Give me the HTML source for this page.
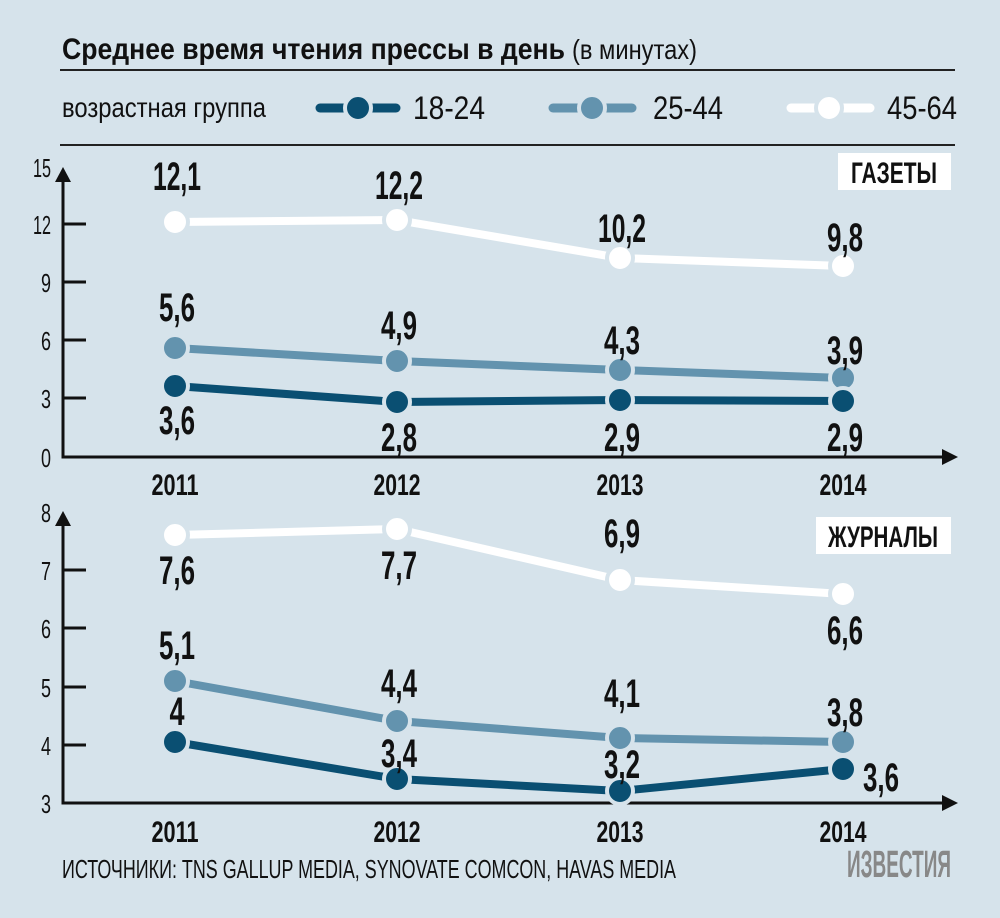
<!DOCTYPE html>
<html><head><meta charset="utf-8"><style>
html,body{margin:0;padding:0;background:#d6e3eb;}
svg{display:block;}
text{font-family:"Liberation Sans Narrow","Liberation Sans",sans-serif;}
.v{font-size:40px;font-weight:bold;fill:#111;text-anchor:middle;}
.t{font-size:26px;fill:#111;text-anchor:end;}
.y{font-size:30px;font-weight:bold;fill:#111;text-anchor:middle;}
</style></head><body>
<svg width="1000" height="918" viewBox="0 0 1000 918" xmlns="http://www.w3.org/2000/svg">
<rect width="1000" height="918" fill="#d6e3eb"/>
<text x="62" y="59" font-size="30" font-weight="bold" fill="#111" textLength="503" lengthAdjust="spacingAndGlyphs">Среднее время чтения прессы в день</text>
<text x="572" y="59" font-size="28" fill="#111" textLength="125" lengthAdjust="spacingAndGlyphs">(в минутах)</text>
<line x1="60" y1="70" x2="955" y2="70" stroke="#222" stroke-width="2"/>
<text x="62" y="117" font-size="28" fill="#111" textLength="204" lengthAdjust="spacingAndGlyphs">возрастная группа</text>
<g stroke-width="9" stroke-linecap="round">
<line x1="320" y1="108" x2="396" y2="108" stroke="#0a4f72"/>
<line x1="553" y1="108" x2="632" y2="108" stroke="#6393ae"/>
<line x1="791" y1="108" x2="870" y2="108" stroke="#fff"/>
</g>
<g stroke="#d6e3eb" stroke-width="4">
<circle cx="358" cy="108" r="13" fill="#0a4f72"/>
<circle cx="592" cy="108" r="13" fill="#6393ae"/>
<circle cx="829" cy="108" r="13" fill="#fff"/>
</g>
<text x="413" y="119" font-size="32" fill="#111" textLength="72" lengthAdjust="spacingAndGlyphs">18-24</text>
<text x="653" y="119" font-size="32" fill="#111" textLength="70" lengthAdjust="spacingAndGlyphs">25-44</text>
<text x="887" y="119" font-size="32" fill="#111" textLength="70" lengthAdjust="spacingAndGlyphs">45-64</text>
<line x1="60" y1="145" x2="955" y2="145" stroke="#222" stroke-width="2"/>

<rect x="838" y="153" width="113" height="37" fill="#fff"/>
<text x="894" y="183" font-size="30" font-weight="bold" fill="#111" text-anchor="middle" textLength="86" lengthAdjust="spacingAndGlyphs">ГАЗЕТЫ</text>
<g stroke="#111" stroke-width="3" fill="none">
<polyline points="63,178 63,457 945,457"/>
<line x1="63" y1="224" x2="86" y2="224"/><line x1="63" y1="282" x2="86" y2="282"/>
<line x1="63" y1="340" x2="86" y2="340"/><line x1="63" y1="398" x2="86" y2="398"/>
</g>
<polygon points="63,167 55,182 71,182" fill="#111"/>
<polygon points="958,457 942,449 942,465" fill="#111"/>
<text x="51" y="177" class="t" textLength="18" lengthAdjust="spacingAndGlyphs">15</text><text x="51" y="234" class="t" textLength="18" lengthAdjust="spacingAndGlyphs">12</text><text x="51" y="292" class="t" textLength="10" lengthAdjust="spacingAndGlyphs">9</text><text x="51" y="350" class="t" textLength="10" lengthAdjust="spacingAndGlyphs">6</text><text x="51" y="408" class="t" textLength="10" lengthAdjust="spacingAndGlyphs">3</text><text x="51" y="467" class="t" textLength="10" lengthAdjust="spacingAndGlyphs">0</text>
<g stroke-width="8" fill="none">
<polyline points="175,222 397,220 620,258 843,266" stroke="#fff"/>
<polyline points="175,348 397,361 620,370 843,378" stroke="#6393ae"/>
<polyline points="175,386 397,402 620,400 843,401" stroke="#0a4f72"/>
</g>
<g stroke="#d6e3eb" stroke-width="4">
<circle cx="175" cy="222" r="13" fill="#fff"/><circle cx="397" cy="220" r="13" fill="#fff"/><circle cx="620" cy="258" r="13" fill="#fff"/><circle cx="843" cy="266" r="13" fill="#fff"/>
<circle cx="175" cy="348" r="13" fill="#6393ae"/><circle cx="397" cy="361" r="13" fill="#6393ae"/><circle cx="620" cy="370" r="13" fill="#6393ae"/><circle cx="843" cy="378" r="13" fill="#6393ae"/>
<circle cx="175" cy="386" r="13" fill="#0a4f72"/><circle cx="397" cy="402" r="13" fill="#0a4f72"/><circle cx="620" cy="400" r="13" fill="#0a4f72"/><circle cx="843" cy="401" r="13" fill="#0a4f72"/>
</g>
<text class="v" x="177" y="190" textLength="48" lengthAdjust="spacingAndGlyphs">12,1</text><text class="v" x="399" y="199" textLength="48" lengthAdjust="spacingAndGlyphs">12,2</text><text class="v" x="622" y="242" textLength="48" lengthAdjust="spacingAndGlyphs">10,2</text><text class="v" x="845" y="251" textLength="36" lengthAdjust="spacingAndGlyphs">9,8</text>
<text class="v" x="177" y="321" textLength="36" lengthAdjust="spacingAndGlyphs">5,6</text><text class="v" x="399" y="339" textLength="36" lengthAdjust="spacingAndGlyphs">4,9</text><text class="v" x="622" y="354" textLength="36" lengthAdjust="spacingAndGlyphs">4,3</text><text class="v" x="845" y="364" textLength="36" lengthAdjust="spacingAndGlyphs">3,9</text>
<text class="v" x="177" y="434" textLength="36" lengthAdjust="spacingAndGlyphs">3,6</text><text class="v" x="399" y="451" textLength="36" lengthAdjust="spacingAndGlyphs">2,8</text><text class="v" x="622" y="451" textLength="36" lengthAdjust="spacingAndGlyphs">2,9</text><text class="v" x="845" y="451" textLength="36" lengthAdjust="spacingAndGlyphs">2,9</text>
<text class="y" x="175" y="495" textLength="47" lengthAdjust="spacingAndGlyphs">2011</text><text class="y" x="397" y="495" textLength="47" lengthAdjust="spacingAndGlyphs">2012</text><text class="y" x="620" y="495" textLength="47" lengthAdjust="spacingAndGlyphs">2013</text><text class="y" x="843" y="495" textLength="47" lengthAdjust="spacingAndGlyphs">2014</text>

<rect x="816" y="517" width="135" height="37" fill="#fff"/>
<text x="883" y="547" font-size="30" font-weight="bold" fill="#111" text-anchor="middle" textLength="110" lengthAdjust="spacingAndGlyphs">ЖУРНАЛЫ</text>
<g stroke="#111" stroke-width="3" fill="none">
<polyline points="63,522 63,803 945,803"/>
<line x1="63" y1="570" x2="86" y2="570"/><line x1="63" y1="628" x2="86" y2="628"/>
<line x1="63" y1="687" x2="86" y2="687"/><line x1="63" y1="745" x2="86" y2="745"/>
</g>
<polygon points="63,511 55,526 71,526" fill="#111"/>
<polygon points="958,803 942,795 942,811" fill="#111"/>
<text x="51" y="522" class="t" textLength="10" lengthAdjust="spacingAndGlyphs">8</text><text x="51" y="580" class="t" textLength="10" lengthAdjust="spacingAndGlyphs">7</text><text x="51" y="638" class="t" textLength="10" lengthAdjust="spacingAndGlyphs">6</text><text x="51" y="697" class="t" textLength="10" lengthAdjust="spacingAndGlyphs">5</text><text x="51" y="755" class="t" textLength="10" lengthAdjust="spacingAndGlyphs">4</text><text x="51" y="813" class="t" textLength="10" lengthAdjust="spacingAndGlyphs">3</text>
<g stroke-width="8" fill="none">
<polyline points="175,535 397,529 620,580 843,594" stroke="#fff"/>
<polyline points="175,681 397,721 620,738 843,742" stroke="#6393ae"/>
<polyline points="175,742 397,779 620,791 843,769" stroke="#0a4f72"/>
</g>
<g stroke="#d6e3eb" stroke-width="4">
<circle cx="175" cy="535" r="13" fill="#fff"/><circle cx="397" cy="529" r="13" fill="#fff"/><circle cx="620" cy="580" r="13" fill="#fff"/><circle cx="843" cy="594" r="13" fill="#fff"/>
<circle cx="175" cy="681" r="13" fill="#6393ae"/><circle cx="397" cy="721" r="13" fill="#6393ae"/><circle cx="620" cy="738" r="13" fill="#6393ae"/><circle cx="843" cy="742" r="13" fill="#6393ae"/>
<circle cx="175" cy="742" r="13" fill="#0a4f72"/><circle cx="397" cy="779" r="13" fill="#0a4f72"/><circle cx="620" cy="791" r="13" fill="#0a4f72"/><circle cx="843" cy="769" r="13" fill="#0a4f72"/>
</g>
<text class="v" x="177" y="584" textLength="36" lengthAdjust="spacingAndGlyphs">7,6</text><text class="v" x="399" y="579" textLength="36" lengthAdjust="spacingAndGlyphs">7,7</text><text class="v" x="622" y="547" textLength="36" lengthAdjust="spacingAndGlyphs">6,9</text><text class="v" x="845" y="644" textLength="36" lengthAdjust="spacingAndGlyphs">6,6</text>
<text class="v" x="177" y="659" textLength="36" lengthAdjust="spacingAndGlyphs">5,1</text><text class="v" x="399" y="697" textLength="36" lengthAdjust="spacingAndGlyphs">4,4</text><text class="v" x="622" y="707" textLength="36" lengthAdjust="spacingAndGlyphs">4,1</text><text class="v" x="845" y="726" textLength="36" lengthAdjust="spacingAndGlyphs">3,8</text>
<text class="v" x="177" y="725" textLength="15" lengthAdjust="spacingAndGlyphs">4</text><text class="v" x="399" y="767" textLength="36" lengthAdjust="spacingAndGlyphs">3,4</text><text class="v" x="622" y="778" textLength="36" lengthAdjust="spacingAndGlyphs">3,2</text><text class="v" x="881" y="791" textLength="36" lengthAdjust="spacingAndGlyphs">3,6</text>
<text class="y" x="175" y="842" textLength="47" lengthAdjust="spacingAndGlyphs">2011</text><text class="y" x="397" y="842" textLength="47" lengthAdjust="spacingAndGlyphs">2012</text><text class="y" x="620" y="842" textLength="47" lengthAdjust="spacingAndGlyphs">2013</text><text class="y" x="843" y="842" textLength="47" lengthAdjust="spacingAndGlyphs">2014</text>

<text x="62" y="878" font-size="26" fill="#111" textLength="614" lengthAdjust="spacingAndGlyphs">ИСТОЧНИКИ: TNS GALLUP MEDIA, SYNOVATE COMCON, HAVAS MEDIA</text>
<text x="847" y="877" font-family="Liberation Serif, serif" font-size="38" font-weight="bold" fill="#888" textLength="104" lengthAdjust="spacingAndGlyphs">ИЗВЕСТИЯ</text>
</svg>
</body></html>
